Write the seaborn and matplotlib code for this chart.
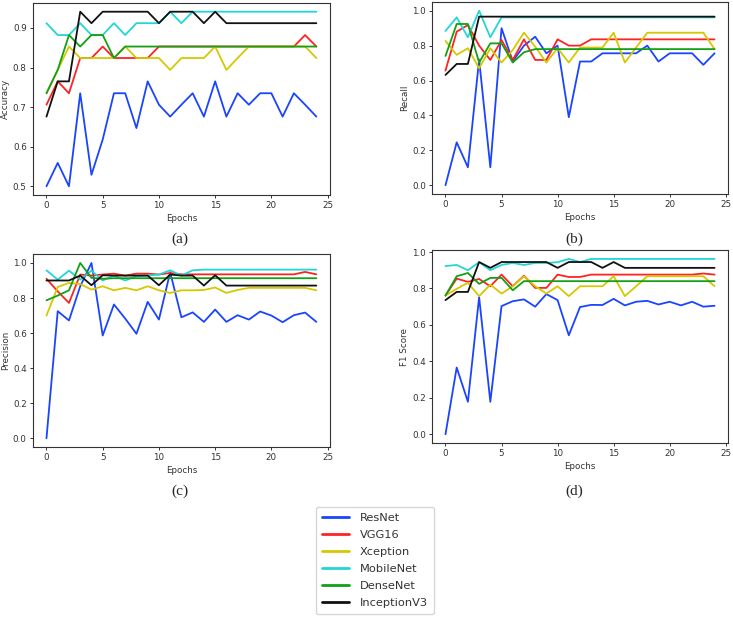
import numpy as np
import pandas as pd
import matplotlib
matplotlib.use("Agg")
import matplotlib.pyplot as plt
import seaborn as sns

# Per-epoch metrics
epochs = list(range(25))
models = ["ResNet", "VGG16", "Xception", "MobileNet", "DenseNet", "InceptionV3"]
colors = ["#1a44ff", "#ff2222", "#d6c800", "#22d6d6", "#14a014", "#111111"]

resnet_acc = [0.5, 0.559, 0.5, 0.735, 0.529, 0.618, 0.735, 0.735, 0.647, 0.765, 0.706, 0.676, 0.706,
              0.735, 0.676, 0.765, 0.676, 0.735, 0.706, 0.735, 0.735, 0.676, 0.735, 0.706, 0.676]
vgg_acc = [0.706, 0.765, 0.735, 0.824, 0.824, 0.853, 0.824, 0.824, 0.824, 0.824, 0.853, 0.853, 0.853,
           0.853, 0.853, 0.853, 0.853, 0.853, 0.853, 0.853, 0.853, 0.853, 0.853, 0.882, 0.853]
xception_acc = [0.735, 0.794, 0.853, 0.824, 0.824, 0.824, 0.824, 0.853, 0.824, 0.824, 0.824, 0.794, 0.824,
                0.824, 0.824, 0.853, 0.794, 0.824, 0.853, 0.853, 0.853, 0.853, 0.853, 0.853, 0.824]
mobilenet_acc = [0.912, 0.882, 0.882, 0.912, 0.882, 0.882, 0.912, 0.882, 0.912, 0.912, 0.912, 0.941, 0.912,
                 0.941, 0.941, 0.941, 0.941, 0.941, 0.941, 0.941, 0.941, 0.941, 0.941, 0.941, 0.941]
densenet_acc = [0.735, 0.794, 0.882, 0.853, 0.882, 0.882, 0.824, 0.853, 0.853, 0.853, 0.853, 0.853, 0.853,
                0.853, 0.853, 0.853, 0.853, 0.853, 0.853, 0.853, 0.853, 0.853, 0.853, 0.853, 0.853]
inception_acc = [0.676, 0.765, 0.765, 0.941, 0.912, 0.941, 0.941, 0.941, 0.941, 0.941, 0.912, 0.941, 0.941,
                 0.941, 0.912, 0.941, 0.912, 0.912, 0.912, 0.912, 0.912, 0.912, 0.912, 0.912, 0.912]

resnet_rec = [0.0, 0.246, 0.103, 0.72, 0.103, 0.9, 0.71, 0.8, 0.851, 0.756, 0.8, 0.39, 0.709,
              0.709, 0.756, 0.756, 0.756, 0.756, 0.8, 0.709, 0.756, 0.756, 0.756, 0.69, 0.756]
vgg_rec = [0.657, 0.88, 0.918, 0.8, 0.718, 0.832, 0.718, 0.836, 0.718, 0.718, 0.836, 0.8, 0.8,
           0.836, 0.836, 0.836, 0.836, 0.836, 0.836, 0.836, 0.836, 0.836, 0.836, 0.836, 0.836]
xception_rec = [0.827, 0.747, 0.785, 0.67, 0.785, 0.703, 0.775, 0.874, 0.794, 0.703, 0.785, 0.703, 0.789,
                0.789, 0.789, 0.874, 0.703, 0.789, 0.874, 0.874, 0.874, 0.874, 0.874, 0.874, 0.78]
mobilenet_rec = [0.884, 0.962, 0.848, 1.0, 0.848, 0.962, 0.962, 0.962, 0.962, 0.962, 0.962, 0.962, 0.962,
                 0.962, 0.962, 0.962, 0.962, 0.962, 0.962, 0.962, 0.962, 0.962, 0.962, 0.962, 0.962]
densenet_rec = [0.741, 0.924, 0.924, 0.703, 0.813, 0.813, 0.703, 0.762, 0.78, 0.78, 0.78, 0.78, 0.78,
                0.78, 0.78, 0.78, 0.78, 0.78, 0.78, 0.78, 0.78, 0.78, 0.78, 0.78, 0.78]
inception_rec = [0.632, 0.695, 0.695, 0.966, 0.966, 0.966, 0.966, 0.966, 0.966, 0.966, 0.966, 0.966, 0.966,
                 0.966, 0.966, 0.966, 0.966, 0.966, 0.966, 0.966, 0.966, 0.966, 0.966, 0.966, 0.966]

resnet_prec = [0.0, 0.725, 0.672, 0.867, 1.0, 0.586, 0.763, 0.683, 0.596, 0.778, 0.677, 0.947, 0.69,
               0.718, 0.664, 0.734, 0.664, 0.702, 0.677, 0.723, 0.7, 0.662, 0.702, 0.717, 0.664]
vgg_prec = [0.91, 0.838, 0.772, 0.934, 0.928, 0.934, 0.939, 0.928, 0.939, 0.939, 0.934, 0.943, 0.935,
            0.935, 0.935, 0.935, 0.935, 0.935, 0.935, 0.935, 0.935, 0.935, 0.935, 0.949, 0.935]
xception_prec = [0.7, 0.863, 0.886, 0.88, 0.848, 0.867, 0.844, 0.858, 0.844, 0.867, 0.844, 0.829, 0.844,
                 0.844, 0.846, 0.86, 0.829, 0.846, 0.858, 0.858, 0.858, 0.858, 0.858, 0.858, 0.844]
mobilenet_prec = [0.958, 0.905, 0.956, 0.905, 0.956, 0.9, 0.928, 0.9, 0.925, 0.928, 0.934, 0.958, 0.928,
                  0.958, 0.962, 0.962, 0.962, 0.962, 0.962, 0.962, 0.962, 0.962, 0.962, 0.962, 0.962]
densenet_prec = [0.787, 0.814, 0.844, 1.0, 0.915, 0.91, 0.913, 0.913, 0.913, 0.913, 0.913, 0.913, 0.913,
                 0.913, 0.913, 0.913, 0.913, 0.913, 0.913, 0.913, 0.913, 0.913, 0.913, 0.913, 0.913]
inception_prec = [0.9, 0.9, 0.9, 0.928, 0.873, 0.93, 0.928, 0.928, 0.928, 0.928, 0.873, 0.934, 0.928,
                  0.928, 0.871, 0.93, 0.871, 0.871, 0.871, 0.871, 0.871, 0.871, 0.871, 0.871, 0.871]

resnet_f1 = [0.0, 0.366, 0.178, 0.752, 0.178, 0.703, 0.73, 0.74, 0.7, 0.769, 0.736, 0.543, 0.698,
             0.71, 0.709, 0.743, 0.707, 0.727, 0.732, 0.712, 0.727, 0.707, 0.727, 0.7, 0.705]
vgg_f1 = [0.761, 0.854, 0.836, 0.852, 0.812, 0.876, 0.812, 0.87, 0.803, 0.803, 0.876, 0.863, 0.863,
          0.876, 0.876, 0.876, 0.876, 0.876, 0.876, 0.876, 0.876, 0.876, 0.876, 0.882, 0.876]
xception_f1 = [0.761, 0.798, 0.831, 0.758, 0.821, 0.772, 0.812, 0.867, 0.812, 0.772, 0.812, 0.758, 0.812,
               0.812, 0.812, 0.867, 0.758, 0.812, 0.867, 0.867, 0.867, 0.867, 0.867, 0.867, 0.812]
mobilenet_f1 = [0.923, 0.929, 0.9, 0.944, 0.9, 0.929, 0.94, 0.929, 0.94, 0.94, 0.944, 0.962, 0.945,
                0.962, 0.962, 0.962, 0.962, 0.962, 0.962, 0.962, 0.962, 0.962, 0.962, 0.962, 0.962]
densenet_f1 = [0.761, 0.867, 0.885, 0.825, 0.858, 0.858, 0.79, 0.84, 0.84, 0.84, 0.84, 0.84, 0.84,
               0.84, 0.84, 0.84, 0.84, 0.84, 0.84, 0.84, 0.84, 0.84, 0.84, 0.84, 0.84]
inception_f1 = [0.736, 0.781, 0.781, 0.945, 0.913, 0.945, 0.945, 0.945, 0.945, 0.945, 0.913, 0.945, 0.945,
                0.945, 0.913, 0.945, 0.913, 0.913, 0.913, 0.913, 0.913, 0.913, 0.913, 0.913, 0.913]

metrics = {
    "Accuracy": [resnet_acc, vgg_acc, xception_acc, mobilenet_acc, densenet_acc, inception_acc],
    "Recall": [resnet_rec, vgg_rec, xception_rec, mobilenet_rec, densenet_rec, inception_rec],
    "Precision": [resnet_prec, vgg_prec, xception_prec, mobilenet_prec, densenet_prec, inception_prec],
    "F1 Score": [resnet_f1, vgg_f1, xception_f1, mobilenet_f1, densenet_f1, inception_f1],
}

sns.set_style("ticks")
plt.rcParams["font.family"] = ["DejaVu Sans"]

fig = plt.figure(figsize=(7.33, 6.2), dpi=100)

# axes boxes in figure fractions: (a) (b) / (c) (d)
boxes = {
    "Accuracy": [0.045, 0.6855, 0.405, 0.3097],
    "Recall": [0.5894, 0.6871, 0.4038, 0.3097],
    "Precision": [0.045, 0.279, 0.405, 0.311],
    "F1 Score": [0.5894, 0.2855, 0.4038, 0.311],
}
captions = {"Accuracy": (0.245, 0.614, "(a)"), "Recall": (0.784, 0.614, "(b)"),
            "Precision": (0.245, 0.208, "(c)"), "F1 Score": (0.784, 0.208, "(d)")}

palette = dict(zip(models, colors))
handles = None
for name, series in metrics.items():
    df = pd.DataFrame({
        "Epochs": np.tile(epochs, len(models)),
        name: np.concatenate(series),
        "Model": np.repeat(models, len(epochs)),
    })
    ax = fig.add_axes(boxes[name])
    sns.lineplot(data=df, x="Epochs", y=name, hue="Model", palette=palette,
                 linewidth=1.3, ax=ax, legend=True)
    handles, labels = ax.get_legend_handles_labels()
    ax.get_legend().remove()
    ax.set_xticks([0, 5, 10, 15, 20, 25])
    ax.tick_params(labelsize=6.3, length=2.5, width=0.7, pad=2, colors="#333333")
    ax.set_xlabel("Epochs", fontsize=6.3, color="#333333", labelpad=3)
    ax.set_ylabel(name, fontsize=6.3, color="#333333", labelpad=2)
    for s in ax.spines.values():
        s.set_linewidth(0.8)
        s.set_color("#333333")
    cx, cy, ct = captions[name]
    fig.text(cx, cy, ct, ha="center", va="center", fontsize=11,
             family="Liberation Serif")

for h in handles:
    h.set_linewidth(2)
leg = fig.legend(handles, labels, loc="upper center", bbox_to_anchor=(0.512, 0.192),
                 fontsize=8.2, frameon=True, handlelength=2.3, labelspacing=0.62,
                 borderpad=0.55, handletextpad=1.0)
leg.get_frame().set_edgecolor("#cccccc")
for t in leg.get_texts():
    t.set_color("#333333")

fig.savefig("out.png", dpi=100)
